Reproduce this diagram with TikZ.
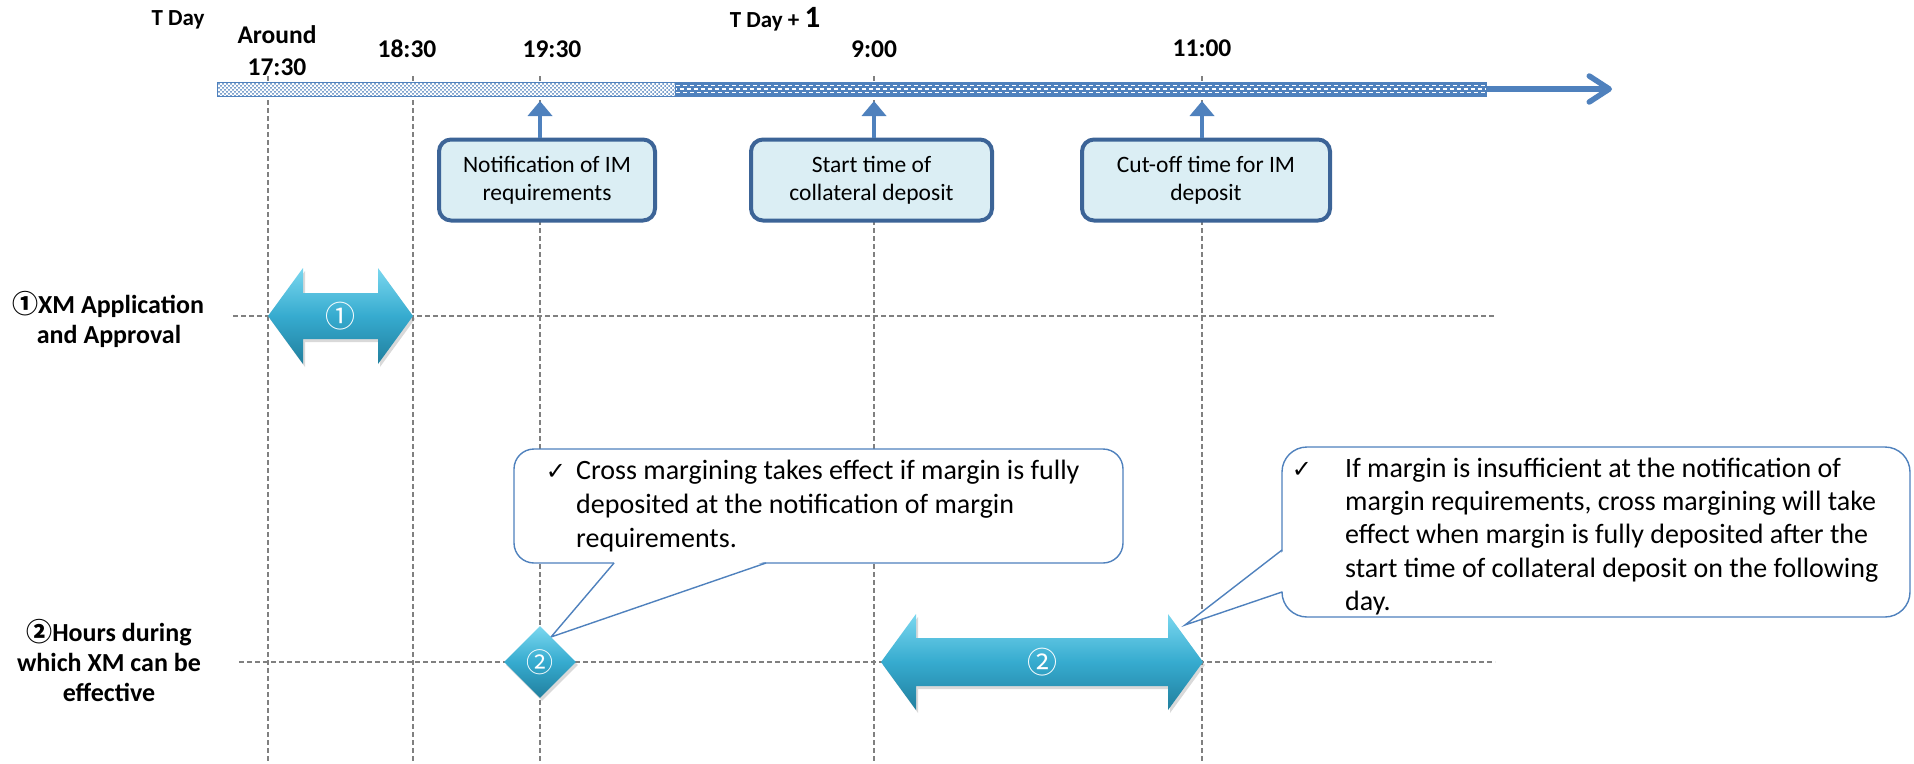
\documentclass[tikz,border=0pt]{standalone}
\usepackage{fontspec}
\setmainfont{Carlito}
\newfontfamily\symf{DejaVu Sans}
\newfontfamily\cjkf{Noto Sans CJK JP}
\usetikzlibrary{patterns,arrows.meta,shapes.geometric,shadows}
\definecolor{ablue}{HTML}{4F81BD}
\definecolor{bxborder}{HTML}{3C6497}
\definecolor{bxfill}{HTML}{DBEEF4}
\definecolor{gridc}{HTML}{808080}
\definecolor{tealA}{HTML}{7AD7EF}
\definecolor{tealB}{HTML}{36ABCF}
\definecolor{tealC}{HTML}{217F9E}
\pgfdeclarepatternformonly{bigdots}{\pgfqpoint{-1pt}{-1pt}}{\pgfqpoint{5pt}{5pt}}{\pgfqpoint{4pt}{4pt}}{%
  \pgfpathcircle{\pgfqpoint{1pt}{1pt}}{1pt}%
  \pgfpathcircle{\pgfqpoint{3pt}{3pt}}{1pt}%
  \pgfusepath{fill}}
\begin{document}
\begin{tikzpicture}[x=1pt,y=-1pt,
  hdr/.style={font=\fontsize{25.5}{30}\selectfont\bfseries, inner sep=0, anchor=base},
  rowlbl/.style={font=\fontsize{26}{30}\selectfont\bfseries, inner sep=0, anchor=base},
  gridline/.style={draw=gridc, line width=1.1pt, dash pattern=on 5pt off 3pt},
  upar/.style={draw=ablue, line width=4.5pt, -{Triangle[length=15pt,width=24pt]}},
  infobox/.style={draw=bxborder, line width=4pt, fill=bxfill, rounded corners=12pt, align=center, font=\fontsize{23.5}{28}\selectfont, minimum height=81pt, inner sep=0},
  callout/.style={draw=ablue, line width=1.4pt, fill=white},
  ctext/.style={font=\fontsize{28}{33}\selectfont, inner sep=0, anchor=base west},
  chk/.style={font=\symf\fontsize{24}{24}\selectfont, inner sep=0, anchor=base},
  teal/.style={top color=tealA, bottom color=tealC, middle color=tealB, draw=none, drop shadow={opacity=0.3, shadow xshift=2pt, shadow yshift=-3pt}},
  numlbl/.style={font=\cjkf\fontsize{30}{30}\selectfont, text=white, inner sep=0},
]
\useasboundingbox (0,0) rectangle (1914,763);

% reference coordinates
\coordinate (v1) at (268,76);
\coordinate (v2) at (413,76);
\coordinate (v3) at (540,76);
\coordinate (v4) at (874,76);
\coordinate (v5) at (1202,76);
\coordinate (barbot) at (0,101);

% grid lines
\foreach \v in {v1,v2,v3,v4,v5}{
  \draw[gridline] (\v) -- (\v |- 0,763);
}
\coordinate (r1s) at (233,316);
\coordinate (r1e) at (1495,316);
\coordinate (r2s) at (239,662);
\coordinate (r2e) at (1495,662);
\draw[gridline] (r1s) -- (r1e);
\draw[gridline] (r2s) -- (r2e);

% time axis bar
\fill[white] (217,82) rectangle (675,96);
\fill[pattern=bigdots, pattern color=ablue] (217,82) rectangle (675,96);
\fill[ablue] (675,82) rectangle (1486,96);
\foreach \yy/\off in {85.5/0,89/3.5,92.5/0}{
  \draw[white, line width=1.5pt, dash pattern=on 4pt off 3pt, dash phase=\off pt] (676,\yy) -- (1485,\yy);
}
\draw[ablue, line width=1pt] (217,82) rectangle (1486,96);
\coordinate (barend) at (1486,89);
\coordinate (axisend) at (1612,89);
\draw[ablue, line width=5.5pt, -{Straight Barb[length=20pt,width=26pt,round]}] (barend) -- (axisend);

% headers
\node[hdr, font=\fontsize{23}{26}\selectfont\bfseries] (tday) at (178,25) {T Day};
\node[hdr] (around) at (277,43) {Around};
\node[hdr] (t1730) at (277,75) {17:30};
\node[hdr] (t1830) at (407,57) {18:30};
\node[hdr] (t1930) at (552,57) {19:30};
\node[hdr, font=\fontsize{23}{26}\selectfont\bfseries] (tday1) at (775,27) {T Day + {\fontsize{31}{31}\selectfont 1}};
\node[hdr] (t900) at (874,57) {9:00};
\node[hdr] (t1100) at (1202,56) {11:00};

% info boxes
\node[infobox, minimum width=216pt] (b1) at (547,180) {Notification of IM\\requirements};
\node[infobox, minimum width=241pt] (b2) at (871.5,180) {Start time of\\collateral deposit};
\node[infobox, minimum width=248pt] (b3) at (1206,180) {Cut-off time for IM\\deposit};
\draw[upar] (b1.north -| v3) -- (v3 |- barbot);
\draw[upar] (b2.north -| v4) -- (v4 |- barbot);
\draw[upar] (b3.north -| v5) -- (v5 |- barbot);

% row labels
\node[rowlbl] (l1a) at (108,313) {{\cjkf\fontsize{26}{26}\selectfont ①}XM Application};
\node[rowlbl] (l1b) at (109,343) {and Approval};
\node[rowlbl] (l2a) at (109,641) {{\cjkf\fontsize{26}{26}\selectfont ②}Hours during};
\node[rowlbl] (l2b) at (109,671) {which XM can be};
\node[rowlbl] (l2c) at (109,701) {effective};

% double arrow 1
\path[teal] (268,316) -- (303,268) -- (303,293) -- (378,293) -- (378,268) -- (413,316)
  -- (378,364) -- (378,339) -- (303,339) -- (303,364) -- cycle;
\node[numlbl] (n1) at (340.5,316) {①};

% callout 1
\draw[callout, rounded corners=20pt] (514,449) rectangle (1123,563);
\fill[white] (615,561.5) -- (551,637) -- (765,561.5) -- cycle;
\draw[ablue, line width=1.4pt, line join=miter] (614,563) -- (551,637) -- (766,563);
\node[chk] (c1) at (556,479) {✓};
\node[ctext] (c1a) at (576,479) {Cross margining takes effect if margin is fully};
\node[ctext] (c1b) at (576,513) {deposited at the notification of margin};
\node[ctext] (c1c) at (576,547) {requirements.};

% callout 2
\draw[callout, rounded corners=25pt] (1282,447) rectangle (1910,617);
\fill[white] (1283.5,551) -- (1185,625) -- (1283.5,591) -- cycle;
\draw[ablue, line width=1.4pt, line join=miter] (1282,550) -- (1185,625) -- (1282,592);
\node[chk] (c2) at (1302,477) {✓};
\node[ctext] (c2a) at (1345,477) {If margin is insufficient at the notification of};
\node[ctext] (c2b) at (1345,510) {margin requirements, cross margining will take};
\node[ctext] (c2c) at (1345,543) {effect when margin is fully deposited after the};
\node[ctext] (c2d) at (1345,577) {start time of collateral deposit on the following};
\node[ctext] (c2e) at (1345,610) {day.};

% diamond
\node[diamond, teal, minimum width=72pt, minimum height=72pt, inner sep=0] (d2) at (540,662) {};
\node[numlbl, font=\cjkf\fontsize{27}{27}\selectfont] (n2a) at (d2) {②};

% double arrow 2
\path[teal] (881,662) -- (916,614) -- (916,638) -- (1168,638) -- (1168,614) -- (1203,662)
  -- (1168,710) -- (1168,686) -- (916,686) -- (916,710) -- cycle;
\node[numlbl] (n2b) at (1042,662) {②};
\end{tikzpicture}
\end{document}
